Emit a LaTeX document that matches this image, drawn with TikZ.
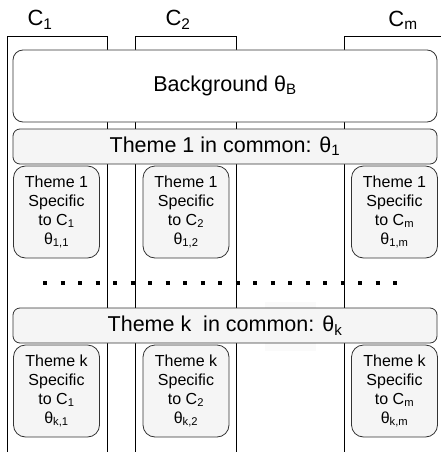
\documentclass[tikz,border=0pt]{standalone}
\usepackage{fontspec}
\setmainfont{Liberation Sans}
\begin{document}
\begin{tikzpicture}[x=1pt,y=-1pt,line width=0.8pt,
  shared/.style={draw=black!80,fill=black!4,rounded corners=7pt,minimum width=424pt,minimum height=35pt,inner sep=0pt,font=\fontsize{21.5}{24}\selectfont},
  own/.style={draw=black!80,fill=black!4,rounded corners=12pt,minimum width=86pt,minimum height=92pt,inner sep=0pt,align=center,font=\fontsize{16}{19}\selectfont},
  clabel/.style={font=\fontsize{22}{24}\selectfont}]
\useasboundingbox (0,0) rectangle (441,452);
% columns C_1, C_2, C_m
\draw (7,452) |- (107,36) -- (107,452);
\draw (135,452) |- (236,36) -- (236,452);
\draw (344,452) |- (441,36);
\node[clabel] (c1) at (40,20) {C\textsubscript{1}};
\node[clabel] (c2) at (178,20) {C\textsubscript{2}};
\node[clabel] (cm) at (403,20) {C\textsubscript{m}};
% background
\node[draw=black!80,fill=white,rounded corners=10pt,minimum width=424pt,minimum height=72pt,font=\fontsize{21.5}{24}\selectfont] (bg) at (225,86) {Background θ\textsubscript{B}};
% theme 1
\node[shared] (com1) at (225,146.5) {Theme 1 in common: θ\textsubscript{1}};
\node[own] (s11) at (56.5,212) {Theme 1\\Specific\\to C\textsubscript{1}\\θ\textsubscript{1,1}};
\node[own] (s12) at (186,212) {Theme 1\\Specific\\to C\textsubscript{2}\\θ\textsubscript{1,2}};
\node[own] (s1m) at (394.5,212) {Theme 1\\Specific\\to C\textsubscript{m}\\θ\textsubscript{1,m}};
% dots
\coordinate (dl) at (43,283);
\coordinate (dr) at (400,283);
\draw[line width=4pt,dash pattern=on 4pt off 13.5pt] (dl) -- (dr);
% theme k
\fill[black!2] (265,302) rectangle (316,351);
\node[shared] (comk) at (225,325.5) {Theme k\ \ in common: θ\textsubscript{k}};
\node[own] (sk1) at (56.5,391) {Theme k\\Specific\\to C\textsubscript{1}\\θ\textsubscript{k,1}};
\node[own] (sk2) at (186,391) {Theme k\\Specific\\to C\textsubscript{2}\\θ\textsubscript{k,2}};
\node[own] (skm) at (394.5,391) {Theme k\\Specific\\to C\textsubscript{m}\\θ\textsubscript{k,m}};
\end{tikzpicture}
\end{document}
